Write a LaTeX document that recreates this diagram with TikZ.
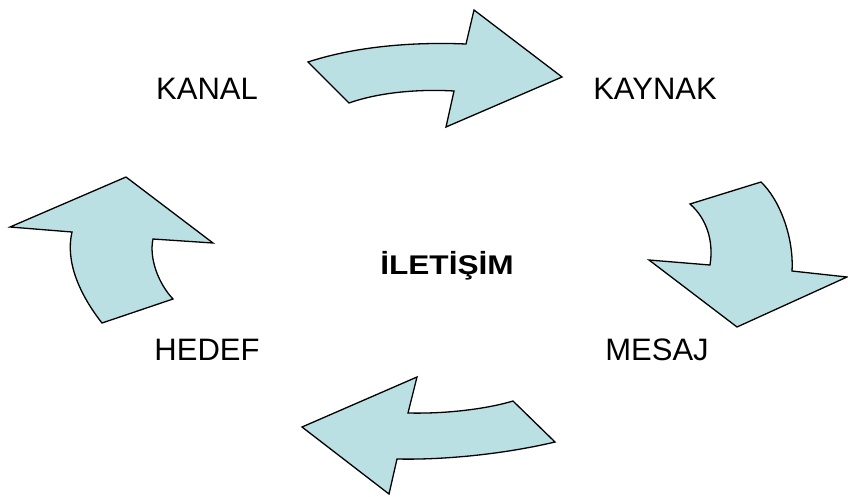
\documentclass[tikz,border=0pt]{standalone}
\usepackage{fontspec}
\setmainfont{Liberation Sans}
\definecolor{arrowfill}{RGB}{186,224,227}
\begin{document}
\begin{tikzpicture}[x=1pt,y=-1pt,
  curvedarrow/.style={fill=arrowfill,draw=black,line width=1.3pt,line join=miter},
  lbl/.style={anchor=base,inner sep=0pt,font=\fontsize{31}{31}\selectfont},
  centerlbl/.style={anchor=base,inner sep=0pt,font=\fontsize{27}{27}\selectfont\bfseries}]
\useasboundingbox (0,0) rectangle (848,496);
% top arrow (KANAL -> KAYNAK)
\draw[curvedarrow] (308,62) .. controls (360,45) and (420,42) .. (466,44)
  -- (474,10) -- (562,77) -- (446,127) -- (454,91)
  .. controls (420,89) and (380,92) .. (349,103) -- cycle;
% right arrow (KAYNAK -> MESAJ)
\draw[curvedarrow] (690,204) -- (761,182) .. controls (780,200) and (794,238) .. (792,271)
  -- (847,277) -- (737,327) -- (649,260) -- (710,265)
  .. controls (714,240) and (706,218) .. cycle;
% bottom arrow (MESAJ -> HEDEF)
\draw[curvedarrow] (513,401) -- (555,442) .. controls (500,455) and (440,460) .. (397,459)
  -- (389,494) -- (302,427) -- (417,377) -- (408,413)
  .. controls (450,414) and (490,408) .. cycle;
% left arrow (HEDEF -> KANAL)
\draw[curvedarrow] (102,323) -- (173,299) .. controls (158,283) and (149,258) .. (153,239)
  -- (213,243) -- (126,177) -- (10,227) -- (72,232)
  .. controls (65,262) and (80,295) .. cycle;
% labels
\node[lbl] (kanal) at (207,99.5) {KANAL};
\node[lbl] (kaynak) at (655,99.5) {KAYNAK};
\node[lbl] (mesaj) at (657,360.5) {MESAJ};
\node[lbl] (hedef) at (207,360.5) {HEDEF};
\node[centerlbl] (iletisim) at (447,274) {\scalebox{1.17}[1]{İLETİŞİM}};
\end{tikzpicture}
\end{document}
